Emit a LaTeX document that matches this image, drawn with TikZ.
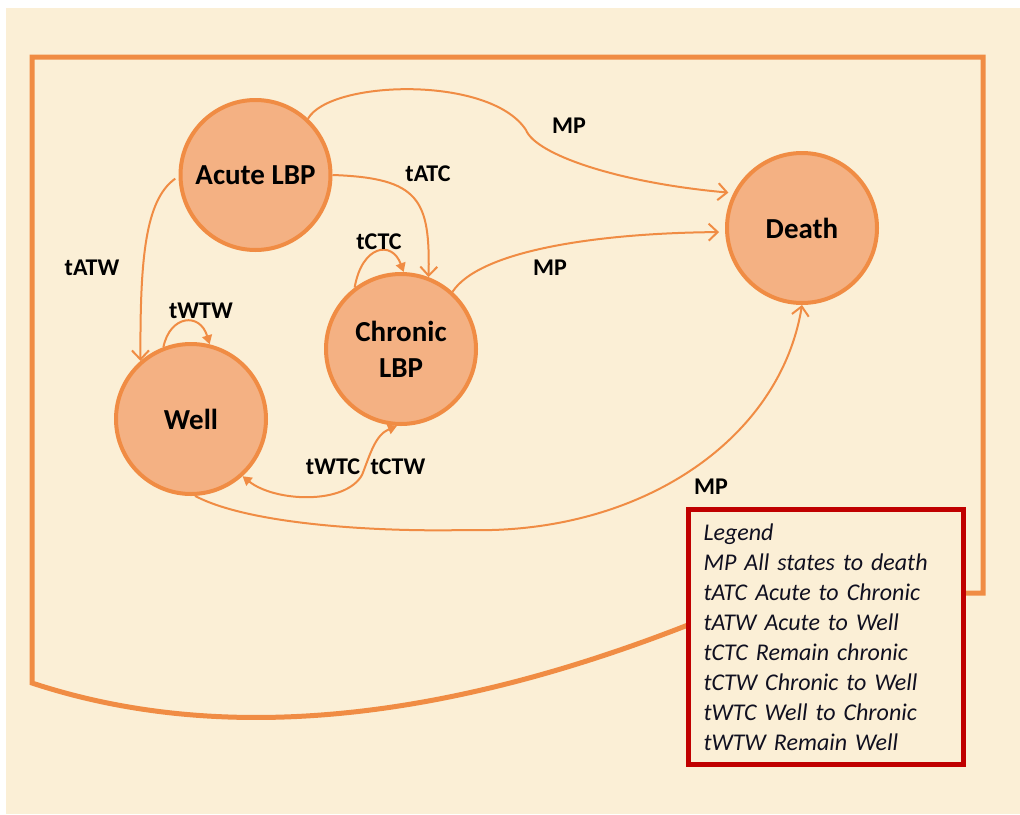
\documentclass[tikz,border=0pt]{standalone}
\usepackage{fontspec}
\setmainfont{Carlito}
\usetikzlibrary{arrows.meta}
\definecolor{cream}{HTML}{FBEFD6}
\definecolor{orangeline}{HTML}{F08C44}
\definecolor{statefill}{HTML}{F4B183}
\definecolor{legendred}{HTML}{C00000}
\definecolor{legendtext}{HTML}{101020}
\begin{document}
\begin{tikzpicture}[x=1pt,y=-1pt,
  state/.style={circle, draw=orangeline, fill=statefill, line width=4pt,
    minimum size=150pt, inner sep=0pt, align=center,
    font=\fontsize{29}{36}\selectfont\bfseries},
  trans/.style={draw=orangeline, line width=2pt},
  chev/.style={-{Straight Barb[length=9pt,width=17pt]}},
  tri/.style={-{Triangle[length=9pt,width=10pt]}},
  lbl/.style={font=\fontsize{24}{29}\selectfont\bfseries, inner sep=0pt},
  frameline/.style={draw=orangeline, line width=5pt, line join=miter},
  legendbox/.style={draw=legendred, line width=5pt, anchor=north west,
    minimum width=275pt, minimum height=255pt},
]
% page and background
\useasboundingbox (0,0) rectangle (1020,814);
\fill[white] (0,0) rectangle (1020,814);
\fill[cream] (6,8) rectangle (1020,814);

% states
\node[state] (acute)   at (255.5,175) {Acute LBP};
\node[state] (chronic) at (401,349)   {Chronic\\LBP};
\node[state] (well)    at (191,419)   {Well};
\node[state] (death)   at (802,228)   {Death};

% legend box
\node[legendbox, fill=cream, inner xsep=14pt,
      text width=245pt, align=left, text=legendtext,
      font=\fontsize{24}{30}\selectfont\itshape] (legend) at (686,507)
  {Legend\\
   MP All states to death\\
   tATC Acute to Chronic\\
   tATW Acute to Well\\
   tCTC Remain chronic\\
   tCTW Chronic to Well\\
   tWTC Well to Chronic\\
   tWTW Remain Well};

% outer frame, running from the legend's right side round to its left side
\coordinate (fr1) at (legend.east |- 0,593);
\coordinate (fl1) at (legend.west |- 0,625);
\draw[frameline] ([xshift=-2pt]fr1) -- (983,593) -- (983,57) -- (32,57) -- (32,683)
  .. controls (220,745) and (440,722) .. ([xshift=2pt]fl1);
\node[legendbox, inner sep=0pt] (legendborder) at (686,507) {};

% transitions
\draw[trans, chev, shorten >=5pt] (acute.47)
  .. controls (330,80) and (490,75) .. (526,130)
  .. controls (536,155) and (620,183) .. (death.153);
\draw[trans, chev] (acute.0)
  .. controls (420,178) and (430,200) .. (chronic.69);
\draw[trans, chev, shorten <=4pt] (acute.181)
  .. controls (145,200) and (140,260) .. (well.131);
\draw[trans, tri] (chronic.127)
  .. controls (362,245) and (392,240) .. (chronic.88);
\draw[trans, tri] (well.111)
  .. controls (170,315) and (200,312) .. (well.76);
\draw[trans, chev, shorten >=6pt] (chronic.48)
  .. controls (480,250) and (600,233) .. (death.183);
\draw[trans, {Triangle[length=9pt,width=10pt]}-{Triangle[length=9pt,width=10pt]}] (well.312)
  .. controls (275,502) and (345,505) .. (362,475)
  .. controls (370,455) and (375,435) .. (chronic.267);
\draw[trans, chev] (well.273)
  .. controls (250,525) and (380,532) .. (466,530)
  .. controls (640,535) and (780,440) .. (death.270);

% transition labels
\node[lbl] (lMPa)  at (569,126) {MP};
\node[lbl] (lATC)  at (428,174) {tATC};
\node[lbl] (lATW)  at (92,268)  {tATW};
\node[lbl] (lCTC)  at (379,242) {tCTC};
\node[lbl] (lMPb)  at (550,268) {MP};
\node[lbl] (lWTW)  at (201,311) {tWTW};
\node[lbl] (lWTC)  at (333,467) {tWTC};
\node[lbl] (lCTW)  at (398,467) {tCTW};
\node[lbl] (lMPc)  at (711,487) {MP};
\end{tikzpicture}
\end{document}
